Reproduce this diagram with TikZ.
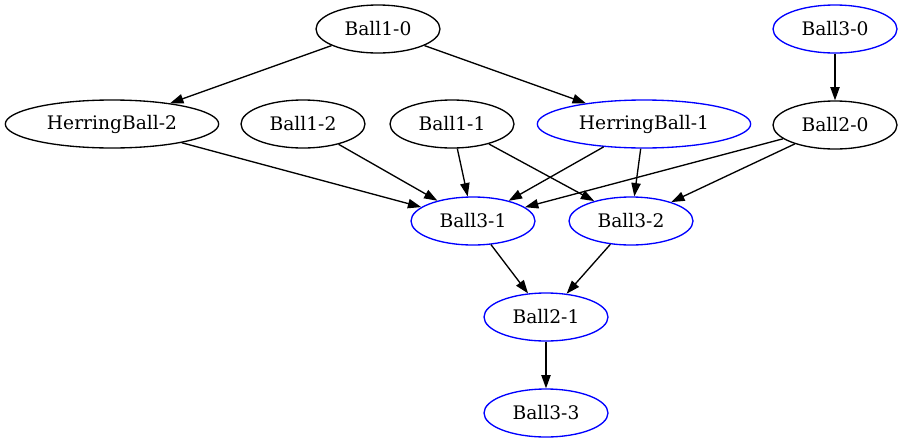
\documentclass[tikz,border=0pt]{standalone}
\usepackage{fontspec}
\setmainfont{DejaVu Serif}
\usetikzlibrary{shapes.geometric,arrows.meta,positioning}
\tikzset{e/.style={draw,ellipse,inner sep=0pt,minimum width=93pt,minimum height=36pt,font=\fontsize{14}{16}\selectfont},
 eb/.style={e,draw=blue},w/.style={minimum width=160pt},
 ar/.style={-{Triangle[length=10pt,width=7pt]}}}

\begin{document}
\begin{tikzpicture}[x=0.75pt,y=-0.75pt,node distance=35pt,line width=1pt]
\useasboundingbox (0,0) rectangle (903,443);
\node[e](b10) at (378,29){Ball1-0};\node[eb](b30) at (835,29){Ball3-0};
\node[e,w](h2) at (112,124){HerringBall-2};\node[e](b12) at (303,124){Ball1-2};
\node[e](b11) at (452,124){Ball1-1};\node[eb,w](h1) at (644,124){HerringBall-1};
\node[e,below=of b30](b20){Ball2-0};
\node[eb](b31) at (473,221){Ball3-1};\node[eb](b32) at (631,221){Ball3-2};
\node[eb](b21) at (546,317){Ball2-1};\node[eb,below=of b21](b33){Ball3-3};
\draw[ar](b10)--(h2);\draw[ar](b10)--(h1);\draw[ar](b30)--(b20);
\draw[ar](h2)--(b31);\draw[ar](b12)--(b31);\draw[ar](b11)--(b31);\draw[ar](b11)--(b32);
\draw[ar](h1)--(b31);\draw[ar](h1)--(b32);\draw[ar](b20)--(b31);\draw[ar](b20)--(b32);
\draw[ar](b31)--(b21);\draw[ar](b32)--(b21);\draw[ar](b21)--(b33);
\end{tikzpicture}
\end{document}
